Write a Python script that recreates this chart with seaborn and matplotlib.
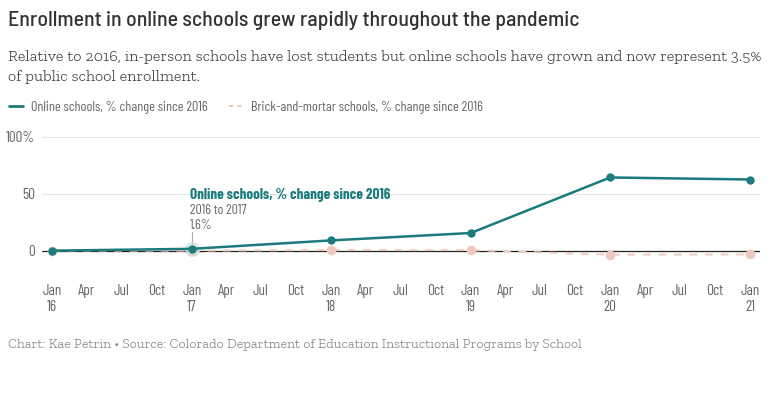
import numpy as np
import pandas as pd
import matplotlib
matplotlib.use("Agg")
import matplotlib.pyplot as plt
from matplotlib.lines import Line2D
import seaborn as sns

# data
years = [2016, 2017, 2018, 2019, 2020, 2021]
online = [0.0, 1.6, 9.0, 15.5, 64.3, 62.5]
brick = [0.0, 0.0, 0.5, 0.5, -3.5, -3.3]
y_ticks = [0, 50, 100]
y_tick_labels = ["0", "50", "100%"]

teal = "#1b7b7d"
pink = "#eecabe"
grey_txt = "#666666"
cond = ["Barlow Condensed", "Roboto Condensed", "Liberation Sans Narrow", "DejaVu Sans"]
semi = ["Barlow Semi Condensed", "Barlow Condensed", "Roboto Condensed", "DejaVu Sans"]
serif = ["Roboto Slab", "Zilla Slab", "DejaVu Serif"]

df = pd.DataFrame({
    "date": pd.to_datetime([f"{y}-01-01" for y in years]),
    "online": online,
    "brick": brick,
})

sns.set_theme(style="white")
plt.rcParams["font.family"] = cond

fig = plt.figure(figsize=(7.78, 3.99), dpi=100)
ax = fig.add_axes([42 / 778, 1 - 270 / 399, 718 / 778, 140 / 399])

for y in y_ticks[1:]:
    ax.axhline(y, color="#e6e6e6", lw=0.8, zorder=0)
ax.axhline(0, color="#222222", lw=0.9, zorder=1)

sns.lineplot(data=df, x="date", y="brick", ax=ax, color=pink, lw=1.4,
             linestyle=(0, (4, 4)), marker="o", markersize=7,
             markeredgewidth=0, zorder=2)
sns.lineplot(data=df, x="date", y="online", ax=ax, color=teal, lw=1.8,
             marker="o", markersize=6, markeredgewidth=0, zorder=3)

# highlight on the 2017 point
d17 = df["date"][1]
ax.scatter([d17], [online[1]], s=120, color="#cfdede", alpha=0.7, zorder=2.5, lw=0)
ax.plot([d17, d17], [online[1] + 3, 16], color="#aaaaaa", lw=0.8, zorder=2)
ax.text(d17 - pd.Timedelta(days=4), 43, "Online schools, % change since 2016",
        color=teal, fontsize=10.9, fontweight="bold", va="bottom", ha="left")
ax.text(d17 - pd.Timedelta(days=4), 35.5, "2016 to 2017", color=grey_txt,
        fontsize=10, va="center", ha="left")
ax.text(d17 - pd.Timedelta(days=4), 22.5, f"{online[1]}%", color=grey_txt,
        fontsize=10, va="center", ha="left")

ax.set_xlim(df["date"][0] - pd.Timedelta(days=26), df["date"].iloc[-1] + pd.Timedelta(days=26))
ax.set_ylim(-17, 106)

ticks = pd.date_range("2016-01-01", "2021-01-01", freq="QS")
labels = []
for t in ticks:
    if t.month == 1:
        labels.append(f"Jan\n{t.year % 100}")
    else:
        labels.append(t.strftime("%b"))
ax.set_xticks(ticks)
ax.set_xticklabels(labels, fontsize=11, color=grey_txt, linespacing=1.15)
ax.set_yticks(y_ticks)
ax.set_yticklabels(y_tick_labels, fontsize=11, color=grey_txt)
ax.tick_params(axis="x", length=0, pad=10)
ax.tick_params(axis="y", length=0, pad=5)
ax.set_xlabel("")
ax.set_ylabel("")
for s in ax.spines.values():
    s.set_visible(False)

fig.text(8 / 778, 1 - 21 / 399, "Enrollment in online schools grew rapidly throughout the pandemic",
         fontsize=15.7, color="#333333", va="center", ha="left", family=semi, fontweight="medium")
fig.text(8 / 778, 1 - 57 / 399,
         "Relative to 2016, in-person schools have lost students but online schools have grown and now represent 3.5%",
         fontsize=11.7, color="#444444", va="center", ha="left", family=serif, fontweight="light")
fig.text(8 / 778, 1 - 77 / 399, "of public school enrollment.",
         fontsize=11.7, color="#444444", va="center", ha="left", family=serif, fontweight="light")

handles = [Line2D([], [], color=teal, lw=2),
           Line2D([], [], color=pink, lw=1.5, linestyle=(0, (2, 2)))]
fig.legend(handles, ["Online schools, % change since 2016", "Brick-and-mortar schools, % change since 2016"],
           loc="center left", bbox_to_anchor=(-4 / 778, 1 - 107 / 399), ncol=2, frameon=False,
           fontsize=10.2, handlelength=1.0, handletextpad=0.55, columnspacing=1.5,
           labelcolor=grey_txt)

fig.text(8 / 778, 1 - 345 / 399,
         "Chart: Kae Petrin \u2022 Source: Colorado Department of Education Instructional Programs by School",
         fontsize=10, color="#888888", va="center", ha="left", family=serif, fontweight="light")

fig.savefig("out.png", dpi=100, facecolor="white")
